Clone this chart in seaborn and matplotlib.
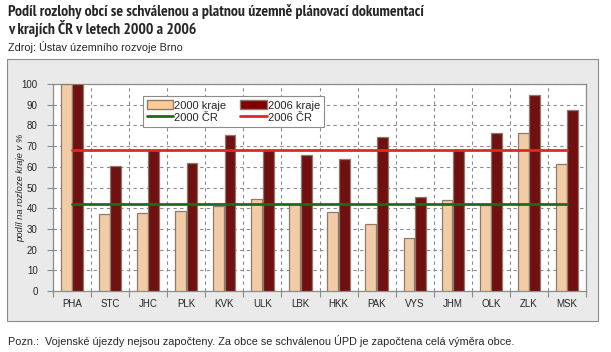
import numpy as np
import pandas as pd
import seaborn as sns
import matplotlib.pyplot as plt
from matplotlib.patches import Rectangle, Patch
from matplotlib.lines import Line2D

# Data
kraje = ['PHA', 'STC', 'JHC', 'PLK', 'KVK', 'ULK', 'LBK', 'HKK',
         'PAK', 'VYS', 'JHM', 'OLK', 'ZLK', 'MSK']
kraje_2000 = [100.0, 37.2, 37.5, 38.5, 41.0, 44.3, 42.0, 38.0,
              32.2, 25.4, 43.8, 41.5, 76.2, 61.2]
kraje_2006 = [100.0, 60.2, 68.0, 62.0, 75.5, 68.0, 65.5, 63.6,
              74.2, 45.3, 68.0, 76.2, 94.5, 87.3]
cr_2000 = 42.0
cr_2006 = 68.1

sns.set_theme(style='white')
plt.rcParams['font.family'] = ['Liberation Sans', 'DejaVu Sans']

df = pd.DataFrame({
    'kraj': kraje * 2,
    'hodnota': kraje_2000 + kraje_2006,
    'rok': ['2000 kraje'] * len(kraje) + ['2006 kraje'] * len(kraje),
})

c2000 = '#FFCC99'
c2006 = '#800000'
cgreen = '#1E6B1E'
cred = '#E02828'

fig = plt.figure(figsize=(6.11, 3.52), dpi=100)
fig.patch.set_facecolor('white')

# grey chart box
fig.patches.append(Rectangle((7 / 611, 1 - 321 / 352), 591 / 611, 262 / 352,
                             transform=fig.transFigure, facecolor='#EAEAEA',
                             edgecolor='#8C8C8C', linewidth=0.8, zorder=-5))

ax = fig.add_axes([53 / 611, 1 - 291 / 352, 533 / 611, 207 / 352])
ax.set_facecolor('white')

sns.barplot(data=df, x='kraj', y='hodnota', hue='rok', order=kraje,
            palette={'2000 kraje': c2000, '2006 kraje': c2006},
            width=0.6, gap=0.05, edgecolor='#8C7A6E', linewidth=0.9,
            ax=ax, legend=False, zorder=3)

sns.lineplot(x=kraje, y=[cr_2000] * len(kraje), color=cgreen, lw=2,
             sort=False, ax=ax, zorder=4)
sns.lineplot(x=kraje, y=[cr_2006] * len(kraje), color=cred, lw=2,
             sort=False, ax=ax, zorder=4)

ax.set_xlim(-0.5, len(kraje) - 0.5)
ax.set_ylim(0, 100)
ax.set_yticks(np.arange(0, 101, 10))
ax.set_xticks(np.arange(-0.5, len(kraje), 1), minor=True)
ax.tick_params(axis='x', which='major', length=0, labelsize=7, pad=6)
ax.tick_params(axis='x', which='minor', length=4, width=0.8, color='#8C8C8C',
               direction='out', bottom=True)
ax.tick_params(axis='y', length=4, width=0.8, color='#8C8C8C',
               direction='out', labelsize=7, pad=7, left=True)
ax.grid(axis='y', which='major', linestyle=(0, (3, 3)), color='#8C8C8C', lw=0.8)
ax.grid(axis='x', which='minor', linestyle=(0, (3, 3)), color='#8C8C8C', lw=0.8)
ax.set_axisbelow(True)
for s in ax.spines.values():
    s.set_color('#8C8C8C')
    s.set_linewidth(0.9)
ax.set_xlabel('')
ax.set_ylabel('podíl na rozloze kraje v %', fontsize=6.8, fontstyle='italic')
ax.yaxis.set_label_coords(-28 / 533, 0.5)

handles = [Patch(facecolor=c2000, edgecolor='#8C7A6E', label='2000 kraje'),
           Line2D([], [], color=cgreen, lw=2, label='2000 ČR'),
           Patch(facecolor=c2006, edgecolor='#8C7A6E', label='2006 kraje'),
           Line2D([], [], color=cred, lw=2, label='2006 ČR')]
leg = ax.legend(handles=handles, ncol=2, loc='upper left',
                bbox_to_anchor=(0.158, 0.968), fontsize=8, fancybox=False,
                framealpha=1, edgecolor='#8C8C8C', handlelength=2.4,
                handleheight=0.9, labelspacing=0.15, columnspacing=1.2,
                handletextpad=0.1, borderpad=0.35)
leg.get_frame().set_linewidth(0.8)
leg.set_zorder(6)

fig.text(8 / 611, 1 - 4 / 352, 'Podíl rozlohy obcí se schválenou a platnou územně plánovací dokumentací\n'
         'v krajích ČR v letech 2000 a 2006', ha='left', va='top',
         fontsize=11.3, fontweight='bold', linespacing=1.1,
         family=['PT Sans Narrow', 'Roboto Condensed', 'DejaVu Sans'])
fig.text(8 / 611, 1 - 41 / 352, 'Zdroj: Ústav územního rozvoje Brno', ha='left',
         va='top', fontsize=7.8)
fig.text(8 / 611, 1 - 335 / 352, 'Pozn.:  Vojenské újezdy nejsou započteny. Za obce se schválenou ÚPD je započtena celá výměra obce.',
         ha='left', va='top', fontsize=7.8)

fig.savefig('out.png', dpi=100)
